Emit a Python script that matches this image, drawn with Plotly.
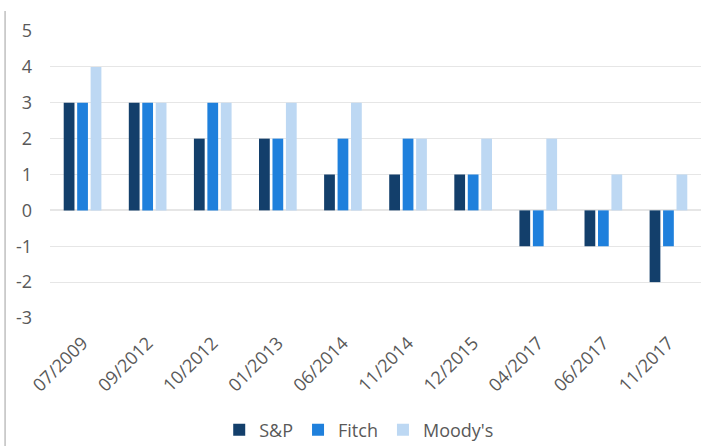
import plotly.graph_objects as go

dates = ["07/2009", "09/2012", "10/2012", "01/2013", "06/2014",
         "11/2014", "12/2015", "04/2017", "06/2017", "11/2017"]
sp = [3, 3, 2, 2, 1, 1, 1, -1, -1, -2]
fitch = [3, 3, 3, 2, 2, 2, 1, -1, -1, -1]
moodys = [4, 3, 3, 3, 3, 2, 2, 2, 1, 1]
y_ticks = [5, 4, 3, 2, 1, 0, -1, -2, -3]
y_tick_labels = ["5", "4", "3", "2", "1", "0", "-1", "-2", "-3"]

series = [("S&P", sp, "#133f6b"), ("Fitch", fitch, "#1f80dc"), ("Moody's", moodys, "#bdd8f3")]

fig = go.Figure()
for name, vals, color in series:
    fig.add_trace(go.Bar(x=dates, y=vals, name=name, marker_color=color,
                         marker_line_width=0))

fig.update_layout(
    width=705, height=446,
    margin=dict(l=50, r=4, t=31, b=128, autoexpand=False),
    paper_bgcolor="white", plot_bgcolor="white",
    font=dict(family="Open Sans, sans-serif", color="#595959", size=16),
    barmode="group", bargap=0.38, bargroupgap=0.2,
    showlegend=True,
    legend=dict(orientation="h", x=0.475, xanchor="center", y=-0.39, yanchor="middle",
                font=dict(size=18), itemwidth=30, traceorder="normal"),
    xaxis=dict(tickangle=-45, showgrid=False, showline=False, ticks="",
               tickfont=dict(size=18), automargin=False, ticklabelstandoff=10),
    yaxis=dict(range=[-3, 5], tickvals=y_ticks, ticktext=y_tick_labels,
               showgrid=True, gridcolor="#e6e6e6",
               zeroline=True, zerolinecolor="#e6e6e6", showline=False,
               tickfont=dict(size=18), ticklabelstandoff=17, automargin=False),
    shapes=[dict(type="line", xref="paper", yref="paper", x0=-0.069, x1=-0.069,
                 y0=-0.45, y1=1.07, line=dict(color="#bfbfbf", width=1.5))],
)

fig.write_html("out.html")
